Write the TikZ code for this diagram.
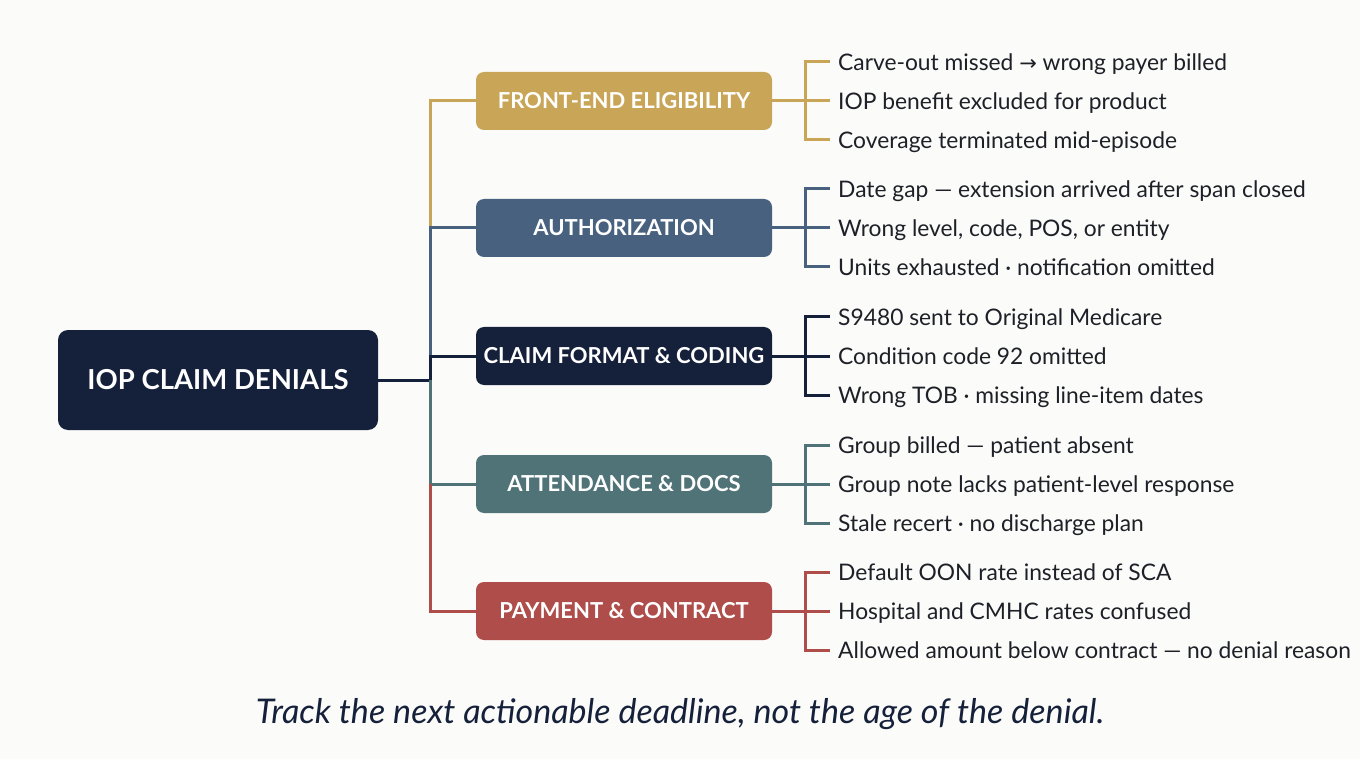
\documentclass[tikz,border=0pt]{standalone}
\usepackage{fontspec}
\setmainfont{Lato}
\newfontfamily\arrowfont{DejaVu Sans}
\usetikzlibrary{positioning}

\definecolor{cBg}{HTML}{FBFBF9}
\definecolor{cInk}{HTML}{1E2028}
\definecolor{cNavy}{HTML}{15203A}
\definecolor{cGold}{HTML}{C8A557}
\definecolor{cBlue}{HTML}{48617F}
\definecolor{cTeal}{HTML}{507378}
\definecolor{cRed}{HTML}{AE4D4A}

\def\xTrunk{430}
\def\xBrk{805}
\def\xItem{838}
\def\dItem{39}

\tikzset{
  rootbox/.style={fill=cNavy, rounded corners=10pt, minimum width=320pt,
    minimum height=100pt, text=white, font=\fontsize{27.5}{32}\selectfont\bfseries},
  catbox/.style={rounded corners=8pt, minimum width=296pt, minimum height=58pt,
    text=white, font=\fontsize{22}{26}\selectfont\bfseries},
  itemtext/.style={anchor=west, inner sep=0pt, text height=17pt, text depth=0pt,
    text=cInk, font=\fontsize{22.8}{27}\selectfont},
  link/.style={line width=3pt, line join=miter},
}

\begin{document}
\begin{tikzpicture}[x=1pt, y=-1pt]
  % -- background
  \useasboundingbox (0,0) rectangle (1360,759);
  \fill[cBg] (0,0) rectangle (1360,759);

  \node[rootbox] (root) at (218,380) {IOP CLAIM DENIALS};
  \coordinate (trunk) at (\xTrunk,380);

  % -- categories with their three items
  \foreach\n/\y/\col/\txt/\ia/\ib/\ic in {
      1/101/cGold/{FRONT-END ELIGIBILITY}/{Carve-out missed {\arrowfont\fontsize{21}{24}\selectfont →} wrong payer billed}/{IOP benefit excluded for product}/{Coverage terminated mid-episode},
      2/228/cBlue/{AUTHORIZATION}/{Date gap — extension arrived after span closed}/{Wrong level, code, POS, or entity}/{Units exhausted · notification omitted},
      3/356/cNavy/{CLAIM FORMAT \& CODING}/{S9480 sent to Original Medicare}/{Condition code 92 omitted}/{Wrong TOB · missing line-item dates},
      4/484/cTeal/{ATTENDANCE \& DOCS}/{Group billed — patient absent}/{Group note lacks patient-level response}/{Stale recert · no discharge plan},
      5/611/cRed/{PAYMENT \& CONTRACT}/{Default OON rate instead of SCA}/{Hospital and CMHC rates confused}/{Allowed amount below contract — no denial reason}} {
    \node[catbox, fill=\col] (cat\n) at (624,\y) {\txt};
    \coordinate (j\n) at (\xTrunk,\y);
    \coordinate (brk\n) at (\xBrk,\y);
    \node[itemtext] (item\n-1) at (\xItem,\y-\dItem) {\ia};
    \node[itemtext] (item\n-2) at (\xItem,\y) {\ib};
    \node[itemtext] (item\n-3) at (\xItem,\y+\dItem) {\ic};
    \draw[link, draw=\col] (cat\n.east) -- (brk\n);
    \draw[link, draw=\col] ([xshift=-8pt]item\n-1.west) -| (brk\n)
      |- ([xshift=-8pt]item\n-3.west);
    \draw[link, draw=\col] (brk\n) -- ([xshift=-8pt]item\n-2.west);
  }

  % -- trunk
  \draw[link, cGold] (cat1.west) -| (j2);
  \draw[link, cBlue] (cat2.west) -- (j2) -- (j3);
  \draw[link, cNavy] (cat3.west) -- (j3) -- (trunk) -- (root.east);
  \draw[link, cTeal] (cat4.west) -| (trunk);
  \draw[link, cRed] (cat5.west) -| (j4);

  \node[text=cNavy, font=\fontsize{34}{40}\selectfont\itshape] (note) at (680,714)
    {Track the next actionable deadline, not the age of the denial.};
\end{tikzpicture}
\end{document}
